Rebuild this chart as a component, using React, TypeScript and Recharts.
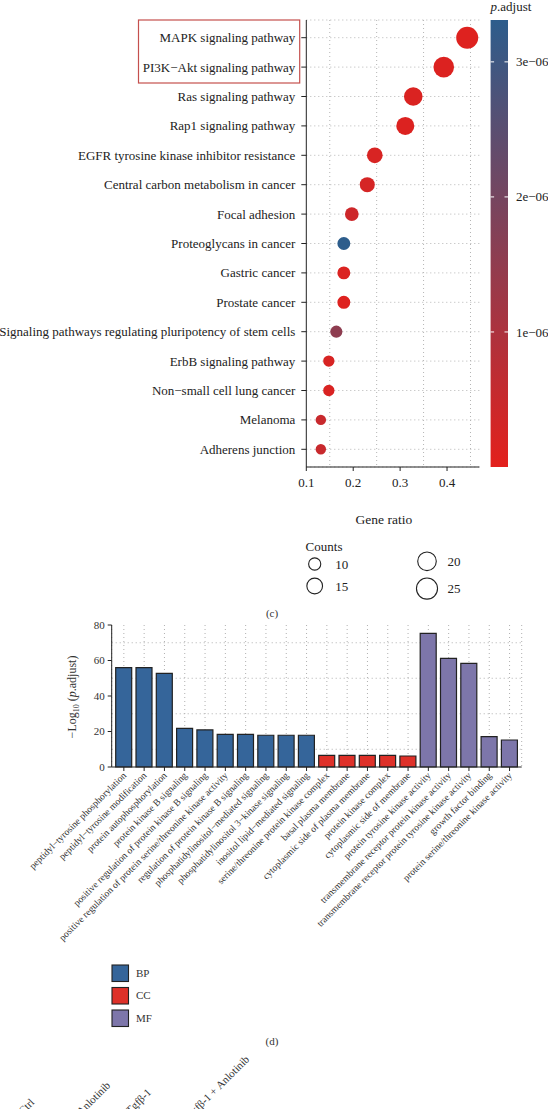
import React from "react";
import {
  ScatterChart,
  Scatter,
  BarChart,
  Bar,
  XAxis,
  YAxis,
  ZAxis,
  CartesianGrid,
  Cell,
} from "recharts";

// panel (c): KEGG enrichment
const pathways = [
  "MAPK signaling pathway",
  "PI3K−Akt signaling pathway",
  "Ras signaling pathway",
  "Rap1 signaling pathway",
  "EGFR tyrosine kinase inhibitor resistance",
  "Central carbon metabolism in cancer",
  "Focal adhesion",
  "Proteoglycans in cancer",
  "Gastric cancer",
  "Prostate cancer",
  "Signaling pathways regulating pluripotency of stem cells",
  "ErbB signaling pathway",
  "Non−small cell lung cancer",
  "Melanoma",
  "Adherens junction",
];
const geneRatio = [0.443, 0.393, 0.328, 0.311, 0.246, 0.23, 0.197, 0.18, 0.18, 0.18, 0.164, 0.148, 0.148, 0.131, 0.131];
const counts = [27, 24, 20, 19, 15, 14, 12, 11, 11, 11, 10, 9, 9, 8, 8];
const pAdjust = [1.0e-7, 1.3e-7, 1.6e-7, 1.2e-7, 2.0e-7, 2.6e-7, 4.0e-7, 3.31e-6, 1.5e-7, 1.0e-7, 1.55e-6, 2.2e-7, 1.8e-7, 5.0e-7, 5.0e-7];
const ratioTicks = [0.1, 0.2, 0.3, 0.4];
const ratioGrid = [0.15, 0.2, 0.25, 0.3, 0.35, 0.4, 0.45];
const pTicks = [1e-6, 2e-6, 3e-6];
const pTickLabels = ["1e−06", "2e−06", "3e−06"];
const countLegend = [10, 15, 20, 25];

// panel (d): GO enrichment
const goTerms = [
  "peptidyl−tyrosine phosphorylation",
  "peptidyl−tyrosine modification",
  "protein autophosphorylation",
  "protein kinase B signaling",
  "positive regulation of protein kinase B signaling",
  "positive regulation of protein serine/threonine kinase activity",
  "regulation of protein kinase B signaling",
  "phosphatidylinositol−mediated signaling",
  "phosphatidylinositol 3−kinase signaling",
  "inositol lipid−mediated signaling",
  "serine/threonine protein kinase complex",
  "basal plasma membrane",
  "cytoplasmic side of plasma membrane",
  "protein kinase complex",
  "cytoplasmic side of membrane",
  "protein tyrosine kinase activity",
  "transmembrane receptor protein kinase activity",
  "transmembrane receptor protein tyrosine kinase activity",
  "growth factor binding",
  "protein serine/threonine kinase activity",
];
const goValues = [56, 56, 52.8, 21.8, 20.9, 18.4, 18.4, 17.9, 17.9, 17.9, 6.6, 6.6, 6.6, 6.6, 6.2, 75.3, 61.2, 58.4, 17.1, 15.2];
const goGroups = ["BP", "BP", "BP", "BP", "BP", "BP", "BP", "BP", "BP", "BP", "CC", "CC", "CC", "CC", "CC", "MF", "MF", "MF", "MF", "MF"];
const groupNames = ["BP", "CC", "MF"];
const groupColors: Record<string, string> = { BP: "#35659A", CC: "#DE3129", MF: "#7D76AA" };
const goTicks = [0, 20, 40, 60, 80];
const goGrid = [10, 20, 30, 40, 50, 60, 70];

// next figure, cut off at the bottom
const nextLabels = ["Ctrl", "Anlotinib", "Tgfβ-1", "Tgfβ-1 + Anlotinib"];

const FONT = "'Liberation Serif', 'Times New Roman', serif";
const P_MAX = 3.31e-6;
const LOW = [227, 32, 28];
const HIGH = [45, 93, 140];
const SIZE_DOMAIN = [8, 27];
const SIZE_RANGE = [85, 380];

function pColor(p: number) {
  const t = Math.max(0, Math.min(1, p / P_MAX));
  const c = LOW.map((l, i) => Math.round(l + (HIGH[i] - l) * t));
  return `rgb(${c[0]},${c[1]},${c[2]})`;
}

function countRadius(c: number) {
  const area =
    SIZE_RANGE[0] +
    ((c - SIZE_DOMAIN[0]) / (SIZE_DOMAIN[1] - SIZE_DOMAIN[0])) * (SIZE_RANGE[1] - SIZE_RANGE[0]);
  return Math.sqrt(area / Math.PI);
}

const keggData = pathways.map((name, i) => ({
  name,
  ratio: geneRatio[i],
  count: counts[i],
  p: pAdjust[i],
}));

const goData = goTerms.map((name, i) => ({ name, value: goValues[i], group: goGroups[i] }));

function PathwayTick({ x, y, payload }: any) {
  return (
    <text x={x} y={y} dy="0.35em" textAnchor="end" fontSize={13} fill="#222" fontFamily={FONT}>
      {payload.value}
    </text>
  );
}

function GoTick({ x, y, payload }: any) {
  return (
    <g transform={`translate(${x + 3},${y + 3})`}>
      <text x={0} y={0} textAnchor="end" transform="rotate(-45)" fontSize={9.6} fill="#333" fontFamily={FONT}>
        {payload.value}
      </text>
    </g>
  );
}

// colour bar geometry
const CB = { x: 490.6, y: 20, w: 17.4, h: 447 };

export default function App() {
  return (
    <div
      style={{
        position: "absolute",
        left: 0,
        top: 0,
        width: 548,
        height: 1109,
        overflow: "hidden",
        background: "#fff",
        fontFamily: FONT,
      }}
    >
      <div style={{ position: "absolute", left: 0, top: 0 }}>
        <ScatterChart width={548} height={530} margin={{ top: 20, right: 68.6, bottom: 0, left: 0 }}>
          <CartesianGrid stroke="#b5b5b5" strokeDasharray="1 3" verticalValues={ratioGrid} xAxisId="x" yAxisId="y" />
          <XAxis
            xAxisId="x"
            type="number"
            dataKey="ratio"
            domain={[0.1, 0.469]}
            allowDataOverflow
            ticks={ratioTicks}
            tickFormatter={(v: number) => v.toFixed(1)}
            height={63}
            tickSize={4}
            tickMargin={7}
            stroke="#222"
            tick={{ fontSize: 13, fill: "#222", fontFamily: FONT }}
            label={{ value: "Gene ratio", position: "insideBottom", offset: 6, dx: -9, fontSize: 13.5, fill: "#222", fontFamily: FONT }}
          />
          <XAxis xAxisId="top" orientation="top" type="number" domain={[0.1, 0.469]} height={0} tick={false} tickLine={false} stroke="#222" />
          <YAxis
            yAxisId="y"
            type="category"
            dataKey="name"
            reversed
            width={306.3}
            padding={{ top: 3, bottom: 3 }}
            interval={0}
            tickSize={5}
            tickMargin={6}
            stroke="#222"
            tick={<PathwayTick />}
          />
          <YAxis yAxisId="right" orientation="right" type="number" width={0} tick={false} tickLine={false} stroke="#222" />
          <ZAxis dataKey="count" type="number" domain={SIZE_DOMAIN} range={SIZE_RANGE} />
          <Scatter data={keggData} xAxisId="x" yAxisId="y" isAnimationActive={false}>
            {keggData.map((d, i) => (
              <Cell key={i} fill={pColor(d.p)} />
            ))}
          </Scatter>
        </ScatterChart>
      </div>

      <div style={{ position: "absolute", left: 0, top: 600 }}>
        <BarChart width={548} height={360} data={goData} margin={{ top: 25, right: 26.3, bottom: 0, left: 0 }} barSize={16}>
          <CartesianGrid stroke="#b0b0b0" strokeDasharray="1 3" horizontalValues={goGrid} xAxisId="x" yAxisId="y" />
          <XAxis
            xAxisId="x"
            dataKey="name"
            interval={0}
            height={193}
            padding={{ left: 2, right: 2 }}
            tickSize={4}
            tickMargin={2}
            stroke="#222"
            tick={<GoTick />}
          />
          <XAxis xAxisId="top" orientation="top" dataKey="name" height={0} tick={false} tickLine={false} stroke="#555" />
          <YAxis
            yAxisId="y"
            type="number"
            domain={[0, 80]}
            ticks={goTicks}
            width={111.7}
            tickSize={4}
            tickMargin={3}
            stroke="#222"
            tick={{ fontSize: 11, fill: "#333", fontFamily: FONT }}
          />
          <YAxis yAxisId="right" orientation="right" type="number" domain={[0, 80]} width={0} tick={false} tickLine={false} stroke="#555" />
          <Bar dataKey="value" xAxisId="x" yAxisId="y" stroke="#222" strokeWidth={1.2} isAnimationActive={false}>
            {goData.map((d, i) => (
              <Cell key={i} fill={groupColors[d.group]} />
            ))}
          </Bar>
        </BarChart>
      </div>

      <svg
        width={548}
        height={1109}
        style={{ position: "absolute", left: 0, top: 0, pointerEvents: "none" }}
        fontFamily={FONT}
      >
        {/* highlight box */}
        <rect x={138.5} y={20} width={161.2} height={63} fill="none" stroke="#C5504E" strokeWidth={1.2} />

        {/* colour bar */}
        <defs>
          <linearGradient id="pgrad" x1="0" y1="1" x2="0" y2="0">
            {[0, 0.25, 0.5, 0.75, 1].map((t) => (
              <stop key={t} offset={t} stopColor={pColor(t * P_MAX)} />
            ))}
          </linearGradient>
        </defs>
        <text x={CB.x} y={11} fontSize={13} fill="#222">
          <tspan fontStyle="italic">p</tspan>.adjust
        </text>
        <rect x={CB.x} y={CB.y} width={CB.w} height={CB.h} fill="url(#pgrad)" />
        {pTicks.map((v, i) => {
          const y = CB.y + (1 - v / P_MAX) * CB.h;
          return (
            <g key={v}>
              <line x1={CB.x} x2={CB.x + 3.5} y1={y} y2={y} stroke="#fff" strokeWidth={1} />
              <line x1={CB.x + CB.w - 3.5} x2={CB.x + CB.w} y1={y} y2={y} stroke="#fff" strokeWidth={1} />
              <text x={516} y={y} dy="0.35em" fontSize={13} fill="#222">
                {pTickLabels[i]}
              </text>
            </g>
          );
        })}

        {/* size legend */}
        <text x={305.6} y={551} fontSize={13} fill="#222">
          Counts
        </text>
        {countLegend.map((c, i) => {
          const cx = i < 2 ? 314.7 : 427;
          const cy = [564, 586, 561.3, 588.6][i];
          return (
            <g key={c}>
              <circle cx={cx} cy={cy} r={countRadius(c)} fill="none" stroke="#222" strokeWidth={1.1} />
              <text x={cx + 20.5} y={cy} dy="0.35em" fontSize={13} fill="#222">
                {c}
              </text>
            </g>
          );
        })}
        <text x={272} y={617} textAnchor="middle" fontSize={11} fill="#333">
          (c)
        </text>

        {/* y label of panel (d) */}
        <text transform="translate(76,697) rotate(-90)" textAnchor="middle" fontSize={12} fill="#333">
          −Log
          <tspan fontSize={8} dy={3}>
            10
          </tspan>
          <tspan dy={-3}> (</tspan>
          <tspan fontStyle="italic">p</tspan>
          <tspan>.adjust)</tspan>
        </text>

        {/* group legend */}
        {groupNames.map((g, i) => {
          const cy = [973, 995.5, 1018][i];
          return (
            <g key={g}>
              <rect x={112} y={cy - 8} width={16.5} height={16.5} fill={groupColors[g]} stroke="#222" strokeWidth={1.1} />
              <text x={136} y={cy} dy="0.35em" fontSize={11} fill="#333">
                {g}
              </text>
            </g>
          );
        })}
        <text x={272} y={1045} textAnchor="middle" fontSize={11} fill="#333">
          (d)
        </text>

        {/* start of the next panel, cut off */}
        {nextLabels.map((t, i) => {
          const [x, y] = [
            [35, 1103],
            [111, 1086],
            [152, 1093],
            [250, 1060],
          ][i];
          return (
            <text key={t} transform={`translate(${x},${y}) rotate(-45)`} textAnchor="end" fontSize={11} fill="#333">
              {t}
            </text>
          );
        })}
      </svg>
    </div>
  );
}
